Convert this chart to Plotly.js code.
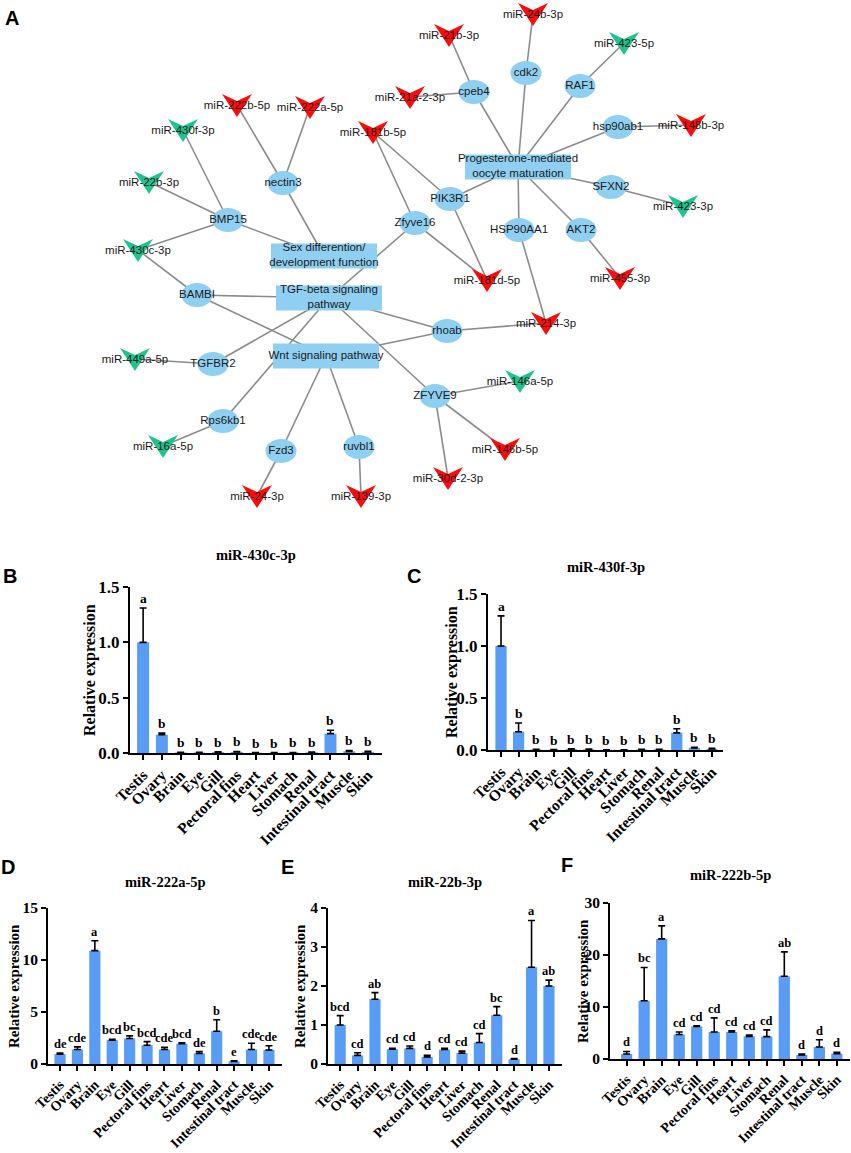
<!DOCTYPE html>
<html><head><meta charset="utf-8">
<script src="https://cdn.plot.ly/plotly-3.0.1.min.js"></script>
<style>html,body{margin:0;padding:0;background:#fff}#chart{width:851px;height:1153px}</style>
</head><body><div id="chart"></div>
<script>
// ================= Panel A : network =================
const geneNames = ['nectin3','BMP15','Zfyve16','PIK3R1','cpeb4','cdk2','RAF1','hsp90ab1','SFXN2','AKT2','HSP90AA1','BAMBI','TGFBR2','Rps6kb1','Fzd3','ruvbl1','rhoab','ZFYVE9'];
const geneX = [283,228,415,450,474,526,580,618,611,581,519,197,213,223,281,359,447,435];
const geneY = [183,220,223,199,92,73,86,127,187,230,230,295,364,421,451,447,331,396];

const pathwayNames = ['Sex','TGF','Wnt','Prog'];
const pathwayLabels = ['Sex differention/<br>development function','TGF-beta signaling<br>pathway','Wnt signaling pathway','Progesterone-mediated<br>oocyte maturation'];
const pathwayX = [324,329,326,518];
const pathwayY = [256,298,356,167];

const redMirNames = ['miR-222b-5p','miR-222a-5p','miR-21a-2-3p','miR-181b-5p','miR-21b-3p','miR-24b-3p','miR-148b-3p','miR-181d-5p','miR-455-3p','miR-214-3p','miR-146b-5p','miR-30d-2-3p','miR-24-3p','miR-139-3p'];
const redMirX = [237,310,410,373,449,533,691,487,620,546,505,448,257,361];
const redMirY = [105,107,97,132,35,14,125,280,278,323,449,478,496,496];

const greenMirNames = ['miR-430f-3p','miR-22b-3p','miR-430c-3p','miR-449a-5p','miR-16a-5p','miR-423-5p','miR-423-3p','miR-146a-5p'];
const greenMirX = [183,149,138,135,163,624,683,520];
const greenMirY = [130,182,250,359,446,43,206,381];

const edgeSource = ['nectin3','nectin3','nectin3','BMP15','BMP15','BMP15','BMP15','BAMBI','BAMBI','BAMBI','TGFBR2','TGFBR2','Rps6kb1','Rps6kb1','Fzd3','Fzd3','ruvbl1','ruvbl1','Zfyve16','Zfyve16','Zfyve16','PIK3R1','PIK3R1','PIK3R1','cpeb4','cpeb4','cpeb4','cdk2','cdk2','RAF1','RAF1','hsp90ab1','hsp90ab1','SFXN2','SFXN2','AKT2','AKT2','HSP90AA1','HSP90AA1','rhoab','rhoab','rhoab','ZFYVE9','ZFYVE9','ZFYVE9','ZFYVE9'];
const edgeTarget = ['miR-222b-5p','miR-222a-5p','Sex','miR-430f-3p','miR-22b-3p','miR-430c-3p','Sex','miR-430c-3p','TGF','Wnt','miR-449a-5p','TGF','miR-16a-5p','TGF','miR-24-3p','Wnt','miR-139-3p','Wnt','miR-181b-5p','miR-181d-5p','TGF','miR-181b-5p','miR-181d-5p','Prog','miR-21b-3p','miR-21a-2-3p','Prog','miR-24b-3p','Prog','miR-423-5p','Prog','miR-148b-3p','Prog','miR-423-3p','Prog','miR-455-3p','Prog','miR-214-3p','Prog','miR-214-3p','TGF','Wnt','miR-146a-5p','miR-146b-5p','miR-30d-2-3p','TGF'];

// ================= Panels B-F : bar charts =================
const tissues = ['Testis','Ovary','Brain','Eye','Gill','Pectoral fins','Heart','Liver','Stomach','Renal','Intestinal tract','Muscle','Skin'];

const mir430c_mean = [1.0,0.165,0.005,0.004,0.008,0.010,0.003,0.002,0.004,0.006,0.175,0.015,0.010];
const mir430c_sem  = [0.31,0.015,0.002,0.002,0.003,0.004,0.001,0.001,0.001,0.002,0.030,0.008,0.006];
const mir430c_letters = ['a','b','b','b','b','b','b','b','b','b','b','b','b'];

const mir430f_mean = [1.0,0.175,0.004,0.003,0.008,0.006,0.002,0.002,0.004,0.005,0.165,0.020,0.010];
const mir430f_sem  = [0.29,0.085,0.002,0.001,0.003,0.003,0.001,0.001,0.002,0.002,0.040,0.006,0.006];
const mir430f_letters = ['a','b','b','b','b','b','b','b','b','b','b','b','b'];

const mir222a_mean = [0.95,1.40,10.9,2.30,2.45,1.80,1.40,1.95,1.02,3.15,0.25,1.40,1.35];
const mir222a_sem  = [0.10,0.25,0.95,0.08,0.25,0.35,0.20,0.10,0.18,1.10,0.06,0.60,0.40];
const mir222a_letters = ['de','cde','a','bcd','bc','bcd','cde','bcd','de','b','e','cde','cde'];

const mir22b_mean = [1.00,0.22,1.66,0.38,0.40,0.18,0.37,0.28,0.55,1.25,0.12,2.48,2.00];
const mir22b_sem  = [0.24,0.07,0.17,0.02,0.06,0.04,0.03,0.05,0.23,0.22,0.02,1.20,0.15];
const mir22b_letters = ['bcd','cd','ab','cd','cd','d','cd','cd','cd','bc','d','a','ab'];

const mir222b_mean = [0.95,11.2,23.1,4.70,6.25,5.20,5.20,4.35,4.30,15.9,0.77,2.30,1.03];
const mir222b_sem  = [0.50,6.40,2.50,0.50,0.15,2.70,0.20,0.25,1.30,4.70,0.20,1.40,0.25];
const mir222b_letters = ['d','bc','a','cd','cd','cd','cd','cd','cd','ab','d','d','d'];

// ================= build =================
const W = 851, H = 1153;
const GENE_COLOR = '#8ecff2', RED = '#ff0a0a', GREEN = '#1fc48c', EDGE = '#8c8c8c';
const pos = {};
geneNames.forEach((n,i)=>pos[n]=[geneX[i],geneY[i]]);
pathwayNames.forEach((n,i)=>pos[n]=[pathwayX[i],pathwayY[i]]);
redMirNames.forEach((n,i)=>pos[n]=[redMirX[i],redMirY[i]]);
greenMirNames.forEach((n,i)=>pos[n]=[greenMirX[i],greenMirY[i]]);

const shapes = [];
edgeSource.forEach((s,i)=>{
  const a = pos[s], b = pos[edgeTarget[i]];
  shapes.push({type:'line', xref:'x', yref:'y', x0:a[0], y0:a[1], x1:b[0], y1:b[1], line:{color:EDGE, width:1.6}, layer:'below'});
});
pathwayNames.forEach((n,i)=>{
  const x = pathwayX[i], y = pathwayY[i];
  shapes.push({type:'rect', xref:'x', yref:'y', x0:x-53, x1:x+53, y0:y-12.5, y1:y+12.5, fillcolor:GENE_COLOR, line:{width:0}, layer:'below'});
});
geneNames.forEach((n,i)=>{
  const x = geneX[i], y = geneY[i];
  shapes.push({type:'circle', xref:'x', yref:'y', x0:x-15.5, x1:x+15.5, y0:y-12, y1:y+12, fillcolor:GENE_COLOR, line:{width:0}, layer:'below'});
});
function vPath(x,y){ return `M${x-15},${y-11} L${x},${y-4} L${x+15},${y-11} L${x},${y+12} Z`; }
redMirNames.forEach((n,i)=>shapes.push({type:'path', xref:'x', yref:'y', path:vPath(redMirX[i],redMirY[i]), fillcolor:RED, line:{width:0}, layer:'below'}));
greenMirNames.forEach((n,i)=>shapes.push({type:'path', xref:'x', yref:'y', path:vPath(greenMirX[i],greenMirY[i]), fillcolor:GREEN, line:{width:0}, layer:'below'}));

const netFont = {family:'Liberation Sans, Arial, sans-serif', size:11.5, color:'#1a1a1a'};
const traces = [];
traces.push({type:'scatter', mode:'text', x:geneX, y:geneY, text:geneNames, textfont:netFont, hoverinfo:'skip', cliponaxis:false, xaxis:'x', yaxis:'y', showlegend:false});
traces.push({type:'scatter', mode:'text', x:pathwayX, y:pathwayY, text:pathwayLabels, textfont:netFont, hoverinfo:'skip', cliponaxis:false, xaxis:'x', yaxis:'y', showlegend:false});
traces.push({type:'scatter', mode:'text', x:redMirX, y:redMirY.map(v=>v+1), text:redMirNames, textfont:netFont, hoverinfo:'skip', cliponaxis:false, xaxis:'x', yaxis:'y', showlegend:false});
traces.push({type:'scatter', mode:'text', x:greenMirX, y:greenMirY.map(v=>v+1), text:greenMirNames, textfont:netFont, hoverinfo:'skip', cliponaxis:false, xaxis:'x', yaxis:'y', showlegend:false});

const layout = {
  width:W, height:H, margin:{l:0,r:0,t:0,b:0}, paper_bgcolor:'#fff', plot_bgcolor:'rgba(0,0,0,0)',
  showlegend:false, shapes:shapes, annotations:[],
  xaxis:{domain:[0,1], range:[0,W], visible:false, fixedrange:true},
  yaxis:{domain:[1-520/H,1], range:[520,0], visible:false, fixedrange:true}
};

const serif = 'Liberation Serif, Times New Roman, serif';
const panels = [
  {mean:mir430c_mean, sem:mir430c_sem, letters:mir430c_letters, title:'miR-430c-3p', px:[130,382], py:[587,753], xr:[-0.7,12.75], yr:[0,1.5], dtick:0.5, fmt:'.1f', xfs:15.5, yfs:17, tfs:14.5, lfs:13.5, titleY:555, ytx:90, label:'B', lx:10, ly:576},
  {mean:mir430f_mean, sem:mir430f_sem, letters:mir430f_letters, title:'miR-430f-3p', px:[488,723], py:[594,750], xr:[-0.74,12.63], yr:[0,1.5], dtick:0.5, fmt:'.1f', xfs:15.5, yfs:17, tfs:14.5, lfs:13.5, titleY:567, ytx:452, label:'C', lx:414, ly:576},
  {mean:mir222a_mean, sem:mir222a_sem, letters:mir222a_letters, title:'miR-222a-5p', px:[48,282], py:[908,1064], xr:[-0.69,12.75], yr:[0,15], dtick:5, fmt:'d', xfs:14, yfs:15.5, tfs:14.5, lfs:12.5, titleY:882, ytx:14, label:'D', lx:8, ly:867},
  {mean:mir22b_mean, sem:mir22b_sem, letters:mir22b_letters, title:'miR-22b-3p', px:[328,562], py:[908,1064], xr:[-0.7,12.75], yr:[0,4], dtick:1, fmt:'d', xfs:14, yfs:15.5, tfs:14.5, lfs:12.5, titleY:882, ytx:300, label:'E', lx:287, ly:867},
  {mean:mir222b_mean, sem:mir222b_sem, letters:mir222b_letters, title:'miR-222b-5p', px:[610,850], py:[903,1059], xr:[-0.95,12.75], yr:[0,30], dtick:10, fmt:'d', xfs:14, yfs:15.5, tfs:14.5, lfs:12.5, titleY:875, ytx:583, label:'F', lx:567, ly:865}
];

panels.forEach((p,k)=>{
  const n = k+2, xa = 'x'+n, ya = 'y'+n;
  layout['xaxis'+n] = {domain:[p.px[0]/W, p.px[1]/W], anchor:ya, type:'category', range:p.xr,
    tickmode:'array', tickvals:tissues, ticktext:tissues,
    showline:true, linecolor:'#000', linewidth:2, ticks:'outside', ticklen:5, tickwidth:2, tickcolor:'#000',
    showgrid:false, zeroline:false, tickangle:-45, tickfont:{family:serif, size:p.xfs, color:'#000', weight:'bold'}, automargin:false, fixedrange:true};
  layout['yaxis'+n] = {domain:[1-p.py[1]/H, 1-p.py[0]/H], anchor:xa, range:p.yr, dtick:p.dtick, tick0:0, tickformat:p.fmt,
    showline:true, linecolor:'#000', linewidth:2, ticks:'outside', ticklen:5, tickwidth:2, tickcolor:'#000',
    showgrid:false, zeroline:false, tickfont:{family:serif, size:p.yfs, color:'#000', weight:'bold'}, automargin:false, fixedrange:true};
  traces.push({type:'bar', x:tissues, y:p.mean, xaxis:xa, yaxis:ya, width:0.64, marker:{color:'#589cf5', line:{width:0}},
    error_y:{type:'data', symmetric:false, array:p.sem, arrayminus:p.sem.map(()=>0), color:'#000', thickness:1.6, width:3.5},
    hoverinfo:'skip', showlegend:false});
  p.letters.forEach((t,i)=>{
    layout.annotations.push({xref:xa, yref:ya, x:tissues[i], y:p.mean[i]+p.sem[i], text:t, showarrow:false, yanchor:'bottom', yshift:0,
      font:{family:serif, size:p.lfs, color:'#000', weight:'bold'}});
  });
  layout.annotations.push({xref:'paper', yref:'paper', x:(p.px[0]+p.px[1])/2/W, y:1-p.titleY/H, text:p.title, showarrow:false,
    xanchor:'center', yanchor:'middle', font:{family:serif, size:p.tfs, color:'#000', weight:'bold'}});
  layout.annotations.push({xref:'paper', yref:'paper', x:p.ytx/W, y:1-(p.py[0]+p.py[1])/2/H, text:'Relative expression', textangle:-90, showarrow:false,
    xanchor:'center', yanchor:'middle', font:{family:serif, size:k<2?16:15, color:'#000', weight:'bold'}});
  layout.annotations.push({xref:'paper', yref:'paper', x:p.lx/W, y:1-p.ly/H, text:p.label, showarrow:false,
    xanchor:'center', yanchor:'middle', font:{family:'Liberation Sans, Arial, sans-serif', size:20, color:'#000', weight:'bold'}});
});
layout.annotations.push({xref:'paper', yref:'paper', x:12/W, y:1-18/H, text:'A', showarrow:false,
  xanchor:'center', yanchor:'middle', font:{family:'Liberation Sans, Arial, sans-serif', size:20, color:'#000', weight:'bold'}});

Plotly.newPlot('chart', traces, layout, {staticPlot:true, displayModeBar:false});
</script></body></html>
